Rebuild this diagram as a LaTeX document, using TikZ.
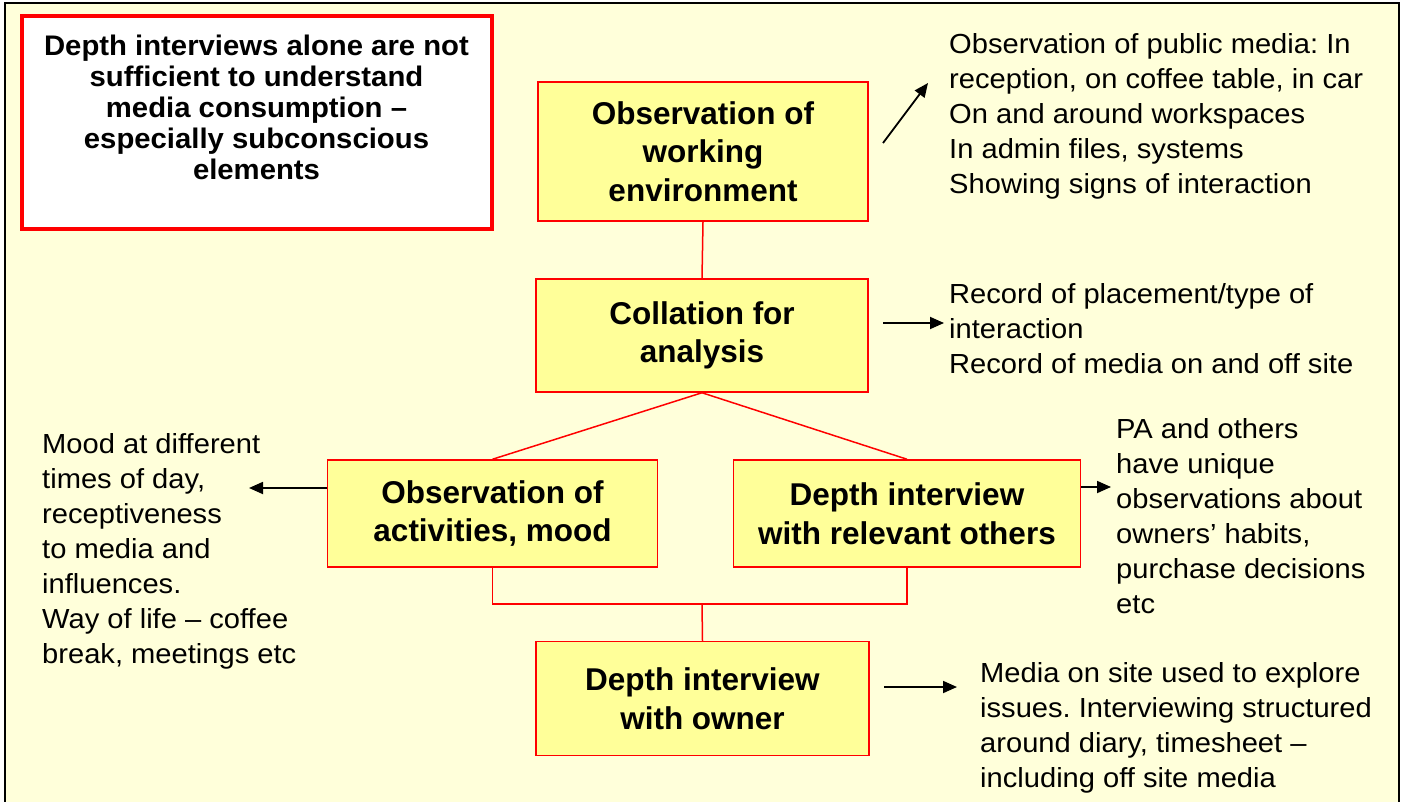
\documentclass[tikz,border=0pt]{standalone}
\usepackage{fontspec}
\setmainfont{Liberation Sans}
\newfontfamily\bodyfont[FakeStretch=1.055,Ligatures=TeX]{Liberation Sans}
\newfontfamily\notefont[FakeStretch=1.035,Ligatures=TeX]{Liberation Sans}
\usetikzlibrary{arrows.meta}
\definecolor{bgyellow}{RGB}{255,255,218}
\definecolor{boxyellow}{RGB}{255,255,153}
\frenchspacing
\begin{document}
\begin{tikzpicture}[x=1pt,y=-1pt,
  stagebox/.style={draw=red, fill=boxyellow, line width=1.5pt, align=center,
    font=\fontsize{31.5}{38.5}\selectfont\bfseries, inner sep=0pt},
  notebox/.style={draw=red, fill=white, line width=4pt, inner sep=0pt},
  notetext/.style={align=center, font=\notefont\fontsize{28.3}{31}\selectfont\bfseries, inner sep=0pt},
  bodytext/.style={align=left, font=\bodyfont\fontsize{27.6}{35}\selectfont, inner sep=0pt, anchor=north west},
  link/.style={draw=red, line width=1.5pt},
  pointer/.style={draw=black, line width=1.8pt, -{Triangle[length=14pt,width=12pt]}}
]
\useasboundingbox (0,0) rectangle (1402,802);
\fill[white] (0,0) rectangle (1402,802);
\filldraw[fill=bgyellow, draw=black, line width=2pt] (5,3) rectangle (1399,812);

% note box
\node[notebox, minimum width=470pt, minimum height=213pt] (note) at (256.5,122.5) {};
\node[notetext, anchor=north] (notetxt) at (256.5,34.5) {Depth interviews alone are not\\sufficient to understand\\media consumption –\\especially subconscious\\elements};

% stage boxes
\node[stagebox, minimum width=330pt, minimum height=139pt] (obswork) at (703,151.5) {Observation of\\working\\environment};
\node[stagebox, minimum width=332pt, minimum height=113pt] (collate) at (702,335.5) {Collation for\\analysis};
\node[stagebox, minimum width=330pt, minimum height=107pt] (obsact) at (492.5,513.5) {Observation of\\activities, mood};
\node[stagebox, minimum width=347pt, minimum height=107pt] (others) at (907,513.5) {Depth interview\\with relevant others};
\node[stagebox, minimum width=333pt, minimum height=114pt] (owner) at (702.5,698.5) {Depth interview\\with owner};

% red connectors
\coordinate (bar) at (702,604);
\draw[link] (obswork.south) -- (collate.north);
\draw[link] (collate.south) -- (obsact.north);
\draw[link] (collate.south) -- (others.north);
\draw[link] (obsact.south) |- (bar) -| (others.south);
\draw[link] (bar) -- (owner.north);

% texts
\node[bodytext] (t1) at (949,33) {Observation of public media: In\\reception, on coffee table, in car\\On and around workspaces\\In admin files, systems\\Showing signs of interaction};
\node[bodytext] (t2) at (949,283) {Record of placement/type of\\interaction\\Record of media on and off site};
\node[bodytext] (t3) at (42,433) {Mood at different\\times of day,\\receptiveness\\to media and\\influences.\\Way of life – coffee\\break, meetings etc};
\node[bodytext] (t4) at (1116,418) {PA and others\\have unique\\observations about\\owners’ habits,\\purchase decisions\\etc};
\node[bodytext] (t5) at (980,662) {Media on site used to explore\\issues. Interviewing structured\\around diary, timesheet –\\including off site media};

% black arrows
\coordinate (a1s) at (883,143);
\coordinate (a1e) at (928,83);
\coordinate (a2s) at (883,323);
\coordinate (a2e) at (944,323);
\coordinate (a3s) at (327,488);
\coordinate (a3e) at (249,488);
\coordinate (a4s) at (1081,487);
\coordinate (a4e) at (1111,487);
\coordinate (a5s) at (884,687);
\coordinate (a5e) at (957,687);
\draw[pointer] (a1s) -- (a1e);
\draw[pointer] (a2s) -- (a2e);
\draw[pointer] (a3s) -- (a3e);
\draw[pointer] (a4s) -- (a4e);
\draw[pointer] (a5s) -- (a5e);
\end{tikzpicture}
\end{document}
